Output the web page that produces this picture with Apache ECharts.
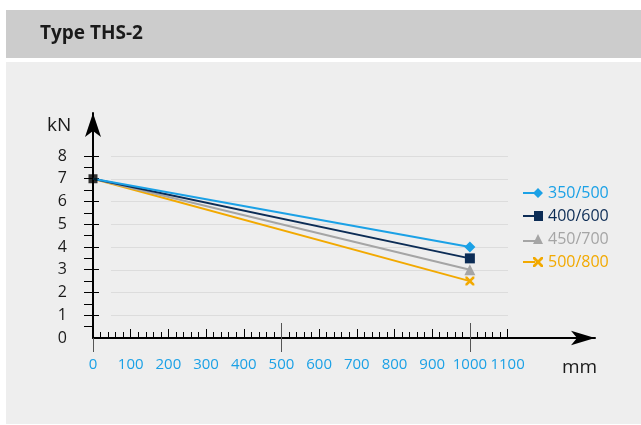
<!DOCTYPE html>
<html>
<head>
<meta charset="utf-8">
<script src="https://cdn.jsdelivr.net/npm/echarts@6/dist/echarts.min.js"></script>
<style>
  html, body { margin: 0; padding: 0; background: #fff; }
  #wrap { position: relative; width: 641px; height: 425px; }
  .band { position: absolute; left: 6px; right: 0; }
  #head { top: 10px; height: 48px; background: #cccccc; }
  #panel { top: 62px; height: 362px; background: #eeeeee; }
  #chart { position: absolute; left: 0; top: 0; width: 641px; height: 425px; }
</style>
</head>
<body>
<div id="wrap">
  <div id="head" class="band"></div>
  <div id="panel" class="band"></div>
  <div id="chart"></div>
</div>
<script>
// chart data
const seriesNames = ['350/500', '400/600', '450/700', '500/800']
const seriesColors = ['#1ba1e6', '#0c2c55', '#a5a5a5', '#f2a900']
const xStart = 0
const xEnd = 1000
const yStart = 7
const yEnd = [4.0, 3.5, 3.0, 2.5]
const xLabels = [0, 100, 200, 300, 400, 500, 600, 700, 800, 900, 1000, 1100]
const yLabels = [0, 1, 2, 3, 4, 5, 6, 7, 8]

const FONT = '"Open Sans", sans-serif'

const xMinor = []
for (let v = 20; v < 1100; v += 20) if (v % 100) xMinor.push(v)
const yHalf = []
for (let v = 0.5; v <= 8; v += 0.5) yHalf.push(v)

const xCross = 'path://M0,0 L2,0 L5,3 L8,0 L10,0 L10,2 L7,5 L10,8 L10,10 L8,10 L5,7 L2,10 L0,10 L0,8 L3,5 L0,2 Z'
const symbols = ['diamond', 'rect', 'triangle', xCross]
const symbolSizes = [11, 10, 11, 9]

// legend icons: short line with marker on the right end
const legendIcons = [
  'path://M0,4 L12,4 L12,6 L0,6 Z M15,0 L20,5 L15,10 L10,5 Z',
  'path://M0,4 L12,4 L12,6 L0,6 Z M11,0 L20,0 L20,10 L11,10 Z',
  'path://M0,6 L12,6 L12,8 L0,8 Z M15,0 L20,10 L10,10 Z',
  'path://M0,4 L12,4 L12,6 L0,6 Z M10,0 L12,0 L15,3 L18,0 L20,0 L20,2 L17,5 L20,8 L20,10 L18,10 L15,7 L12,10 L10,10 L10,8 L13,5 L10,2 Z'
]

const X_MAX = 1332
const Y_MAX = 9.89

function plainX(extra) {
  return Object.assign({
    type: 'value', gridIndex: 0, position: 'bottom', offset: 0,
    min: 0, max: X_MAX,
    axisLine: { show: false },
    axisLabel: { show: false },
    splitLine: { show: false },
  }, extra)
}
function plainY(extra) {
  return Object.assign({
    type: 'value', gridIndex: 0, position: 'left', offset: 0,
    min: 0, max: Y_MAX,
    axisLine: { show: false },
    axisLabel: { show: false },
    splitLine: { show: false },
  }, extra)
}

const chart = echarts.init(document.getElementById('chart'), null, { renderer: 'canvas' })

chart.setOption({
  backgroundColor: 'transparent',
  animation: false,
  title: {
    text: 'Type THS-2',
    left: 35, top: 19,
    textStyle: { fontFamily: FONT, fontSize: 19, fontWeight: 'bold', color: '#1a1a1a' },
  },
  graphic: [
    { type: 'text', left: 47, top: 116, style: { text: 'kN', font: '19px ' + FONT, fill: '#1a1a1a' } },
    { type: 'text', left: 562, top: 358, style: { text: 'mm', font: '19px ' + FONT, fill: '#1a1a1a' } },
  ],
  legend: {
    orient: 'vertical',
    left: 523, top: 184, padding: 0,
    itemWidth: 20, itemHeight: 10, itemGap: 5,
    selectedMode: false,
    textStyle: { fontFamily: FONT, fontSize: 16, lineHeight: 18 },
    data: seriesNames.map((n, i) => ({
      name: n, icon: legendIcons[i],
      textStyle: { color: seriesColors[i] },
    })),
  },
  grid: [
    { left: 93, right: 46, top: 113, bottom: 87 },
    { left: 111, right: 133, top: 156, bottom: 87 },
  ],
  xAxis: [
    plainX({
      axisLine: {
        show: true, symbol: ['none', 'arrow'], symbolSize: [11, 24],
        lineStyle: { color: '#000', width: 2 },
      },
      axisTick: { show: true, inside: true, length: 9, customValues: xLabels.slice(1), lineStyle: { color: '#000', width: 1 } },
      axisLabel: {
        show: true, customValues: xLabels, margin: 19, hideOverlap: false,
        color: '#1ba1e6', fontFamily: FONT, fontSize: 15,
        formatter: v => String(v),
      },
    }),
    plainX({ axisTick: { show: true, inside: true, length: 6, customValues: xMinor, lineStyle: { color: '#000', width: 1 } } }),
    plainX({ axisTick: { show: true, inside: true, length: 15, customValues: [500, 1000], lineStyle: { color: '#555', width: 1 } } }),
    plainX({ axisTick: { show: true, inside: false, length: 14, customValues: [0, 500, 1000], lineStyle: { color: '#555', width: 1 } } }),
    { type: 'value', gridIndex: 1, min: 0, max: 1, show: false },
  ],
  yAxis: [
    plainY({
      axisLine: {
        show: true, symbol: ['none', 'arrow'], symbolSize: [12, 24],
        lineStyle: { color: '#000', width: 2 },
      },
      axisTick: { show: true, inside: false, length: 9, customValues: yHalf, lineStyle: { color: '#000', width: 1 } },
      axisLabel: { show: true, customValues: yLabels, margin: 26, color: '#1a1a1a', fontFamily: FONT, fontSize: 16 },
    }),
    plainY({ axisTick: { show: true, inside: true, length: 6, customValues: yLabels.slice(1), lineStyle: { color: '#000', width: 1 } } }),
    {
      type: 'value', gridIndex: 1, min: 0, max: 8, interval: 1,
      axisLine: { show: false }, axisTick: { show: false }, axisLabel: { show: false },
      splitLine: { show: true, lineStyle: { color: '#dcdcdc', width: 1 } },
    },
  ],
  series: seriesNames.map((n, i) => ({
    name: n,
    type: 'line',
    xAxisIndex: 0, yAxisIndex: 0,
    color: seriesColors[i],
    symbol: symbols[i],
    symbolSize: symbolSizes[i],
    lineStyle: { width: 2, color: seriesColors[i] },
    itemStyle: { color: seriesColors[i] },
    z: 3 + (3 - i),
    data: [
      { value: [xStart, yStart], symbol: 'none' },
      [xEnd, yEnd[i]],
    ],
  })).concat([{
    type: 'scatter',
    xAxisIndex: 0, yAxisIndex: 0,
    symbol: 'rect', symbolSize: 9,
    itemStyle: { color: '#000' },
    z: 10,
    data: [[xStart, yStart]],
  }]),
})
</script>
</body>
</html>
